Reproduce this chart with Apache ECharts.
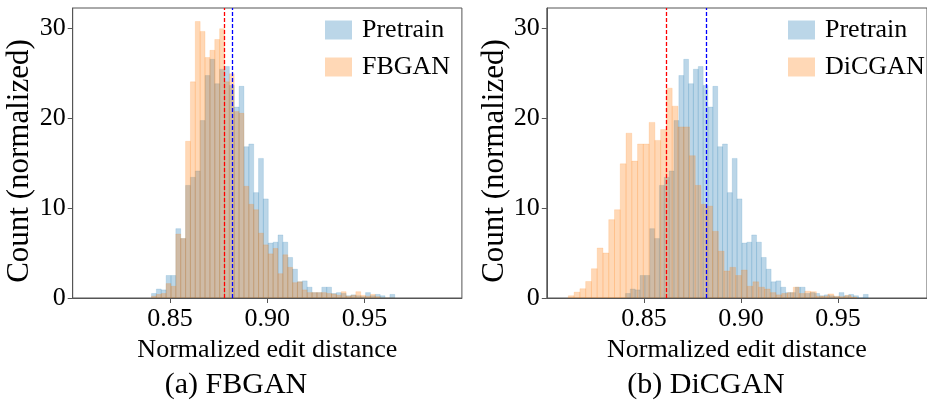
<!DOCTYPE html>
<html>
<head>
<meta charset="utf-8">
<script src="https://cdn.jsdelivr.net/npm/echarts@6/dist/echarts.min.js"></script>
<style>
html,body{margin:0;padding:0;background:#fff;}
#chart{width:927px;height:412px;}
</style>
</head>
<body>
<div id="chart"></div>
<script>
// ---- data (normalized histogram densities) ----
const pretrainStart = 0.8405, pretrainWidth = 0.0025;
const pretrain = [0.5, 1.0, 0.9, 2.5, 2.5, 7.7, 6.6, 12.5, 13.4, 14.1,
  19.7, 24.7, 26.5, 23.8, 25.4, 25.7, 23.6, 21.2, 23.5, 16.8,
  17.1, 11.7, 15.5, 11.0, 6.1, 6.2, 7.0, 6.2, 4.5, 3.2,
  1.8, 1.9, 1.2, 0.6, 0.6, 1.2, 1.2, 0.5, 0.6, 0.5,
  0.25, 0.35, 0.25, 0.15, 0.6, 0.25, 0.4, 0.25, 0, 0.4];

const fbganStart = 0.8405, fbganWidth = 0.0025;
const fbgan = [0.2, 0.4, 0.5, 1.6, 1.3, 7.1, 6.6, 17.4, 24.0, 30.7,
  29.6, 26.7, 27.5, 28.7, 29.9, 24.0, 24.9, 20.7, 20.5, 12.4,
  10.4, 9.8, 7.2, 5.9, 4.9, 5.5, 2.7, 4.8, 3.4, 1.7,
  1.8, 0.9, 0.6, 0.6, 0.6, 0.6, 0.5, 0.45, 0.3, 0.7,
  0.2, 0.3, 0.7, 0.3, 0.2, 0.4, 0.15, 0, 0, 0];

const dicganStart = 0.8111, dicganWidth = 0.00297;
const dicgan = [0.25, 0.65, 1.03, 1.83, 3.25, 5.55, 5.0, 8.7, 9.8, 14.9,
  18.3, 15.2, 17.1, 17.1, 19.5, 17.5, 18.7, 23.3, 21.3, 19.0,
  19.0, 15.8, 12.5, 10.4, 10.2, 7.4, 5.2, 3.0, 3.4, 2.5,
  3.1, 1.3, 1.8, 1.2, 1.0, 0.6, 0.35, 0.5, 0.6, 1.2,
  0.5, 0.75, 0.7, 0.2, 0.2, 0.45, 0.2, 0.15, 0.3, 0.1];

const meanPretrain = 0.8821, meanFBGAN = 0.8779, meanDiCGAN = 0.8613;
const xTicks = [0.85, 0.90, 0.95];
const yTicks = [0, 10, 20, 30];
const captions = ['(a) FBGAN', '(b) DiCGAN'];
const xLabel = 'Normalized edit distance';
const yLabel = 'Count (normalized)';

// ---- build ----
function bins(start, width, vals) {
  return vals.map((h, i) => [start + i * width, start + (i + 1) * width, h]);
}
const BLUE = 'rgba(31,119,180,0.3)', BLUE_EDGE = 'rgba(31,119,180,0.18)';
const ORANGE = 'rgba(255,127,14,0.3)', ORANGE_EDGE = 'rgba(255,127,14,0.18)';
const FONT = '"Liberation Serif", "Times New Roman", serif';

function hist(name, idx, data, fill, edge, z) {
  return {
    type: 'custom', name: name, xAxisIndex: idx, yAxisIndex: idx,
    itemStyle: { color: fill },
    encode: { x: [0, 1], y: 2 },
    clip: true,
    data: data,
    renderItem: function (params, api) {
      const p0 = api.coord([api.value(0), 0]);
      const p1 = api.coord([api.value(1), api.value(2)]);
      return {
        type: 'rect',
        shape: { x: p0[0], y: p1[1], width: p1[0] - p0[0], height: p0[1] - p1[1] },
        style: { fill: fill, stroke: edge, lineWidth: 0.8 }
      };
    },
    z: z
  };
}
function meanLines(idx, means, colors) {
  return {
    type: 'line', xAxisIndex: idx, yAxisIndex: idx, data: [], silent: true,
    markLine: {
      silent: true, symbol: 'none', animation: false, precision: 6,
      label: { show: false },
      data: means.map((m, i) => ({ xAxis: m, lineStyle: { color: colors[i], type: [4, 2], width: 1.3, opacity: 1 } }))
    },
    z: 10
  };
}

function xAxis(idx, max) {
  return {
    type: 'value', gridIndex: idx, min: 0.80, max: max,
    name: xLabel, nameLocation: 'middle', nameGap: 31,
    nameTextStyle: { fontFamily: FONT, fontSize: 26, color: '#000' },
    axisLine: { show: true, lineStyle: { color: '#555', width: 1 } },
    axisTick: { show: true, length: 5, lineStyle: { color: '#555' },
      customValues: xTicks },
    axisLabel: { fontFamily: FONT, fontSize: 26, color: '#000', margin: 8,
      customValues: xTicks, formatter: v => v.toFixed(2) },
    splitLine: { show: false }
  };
}
function yAxis(idx) {
  return {
    type: 'value', gridIndex: idx, min: 0, max: 32.2,
    name: yLabel, nameLocation: 'middle', nameGap: 35,
    nameTextStyle: { fontFamily: FONT, fontSize: 31, color: '#000', padding: [0, 16, 0, 0] },
    axisLine: { show: true, lineStyle: { color: '#555', width: 1 } },
    axisTick: { show: true, length: 5, lineStyle: { color: '#555' },
      customValues: yTicks },
    axisLabel: { fontFamily: FONT, fontSize: 26, color: '#000', margin: 7,
      customValues: yTicks },
    splitLine: { show: false }
  };
}
function legend(left, names) {
  return {
    left: left, top: 17, orient: 'vertical', padding: 0,
    itemWidth: 27, itemHeight: 19, itemGap: 11,
    icon: 'rect',
    data: names,
    textStyle: { fontFamily: FONT, fontSize: 26, color: '#000', padding: [0, 0, 0, 5] },
    selectedMode: false
  };
}

const chart = echarts.init(document.getElementById('chart'), null, { renderer: 'canvas' });
chart.setOption({
  animation: false,
  backgroundColor: '#fff',
  grid: [
    { left: 72.7, top: 8, width: 389.2, height: 290, show: true, borderColor: '#555', borderWidth: 1 },
    { left: 546.8, top: 8, width: 380.6, height: 290, show: true, borderColor: '#555', borderWidth: 1 }
  ],
  xAxis: [xAxis(0, 1.0), xAxis(1, 0.80 + 380.6 / 1944)],
  yAxis: [yAxis(0), yAxis(1)],
  legend: [legend(325, ['Pretrain', 'FBGAN']), legend(788, ['Pretrain ', 'DiCGAN'])],
  series: [
    hist('Pretrain', 0, bins(pretrainStart, pretrainWidth, pretrain), BLUE, BLUE_EDGE, 1),
    hist('FBGAN', 0, bins(fbganStart, fbganWidth, fbgan), ORANGE, ORANGE_EDGE, 2),
    hist('Pretrain ', 1, bins(pretrainStart, pretrainWidth, pretrain), BLUE, BLUE_EDGE, 1),
    hist('DiCGAN', 1, bins(dicganStart, dicganWidth, dicgan), ORANGE, ORANGE_EDGE, 2),
    meanLines(0, [meanFBGAN, meanPretrain], ['#ff0000', '#0000ff']),
    meanLines(1, [meanDiCGAN, meanPretrain], ['#ff0000', '#0000ff'])
  ],
  graphic: [
    { type: 'text', x: 236, y: 385, style: { text: captions[0], font: '30px ' + FONT, fill: '#000', align: 'center', verticalAlign: 'middle' } },
    { type: 'text', x: 706, y: 385, style: { text: captions[1], font: '30px ' + FONT, fill: '#000', align: 'center', verticalAlign: 'middle' } }
  ]
});
</script>
</body>
</html>
